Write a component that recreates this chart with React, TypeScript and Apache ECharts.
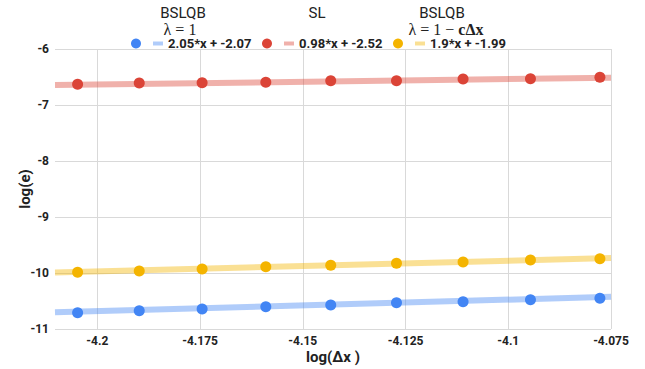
import React, { useEffect, useRef } from "react";
import * as echarts from "echarts";

const xValues = [-4.2048, -4.1898, -4.1745, -4.159, -4.1432, -4.1272, -4.111, -4.0946, -4.0777];
const blueY = [-10.709, -10.673, -10.643, -10.602, -10.571, -10.53, -10.513, -10.477, -10.452];
const redY = [-6.63, -6.607, -6.602, -6.595, -6.566, -6.566, -6.536, -6.53, -6.505];
const yellowY = [-9.988, -9.964, -9.929, -9.888, -9.863, -9.827, -9.804, -9.768, -9.745];

const trendX = [-4.2103, -4.075];
const blueTrend = [-10.7, -10.425];
const redTrend = [-6.645, -6.513];
const yellowTrend = [-9.99, -9.733];

const xTicks = [-4.2, -4.175, -4.15, -4.125, -4.1, -4.075];

const seriesNames = ["BSLQB λ=1", "SL", "BSLQB λ=1−cΔx"];
const trendNames = ["2.05*x + -2.07", "0.98*x + -2.52", "1.9*x + -1.99"];
const colors = ["#4285F4", "#DB4437", "#F4B400"];
const trendColors = ["rgba(66,133,244,0.42)", "rgba(219,68,55,0.42)", "rgba(244,180,0,0.42)"];

const FONT = "Roboto, 'Noto Sans', sans-serif";
const lineIcon = "path://M0,0H10V4H0Z";

export default function App() {
  const ref = useRef<HTMLDivElement>(null);
  useEffect(() => {
    if (!ref.current) return;
    const chart = echarts.init(ref.current, undefined, { renderer: "svg" });
    const ys = [blueY, redY, yellowY];
    const ts = [blueTrend, redTrend, yellowTrend];
    const legendLefts = [131, 262, 393];
    const series: any[] = [];
    for (let i = 0; i < 3; i++) {
      series.push({
        type: "line",
        name: trendNames[i],
        data: trendX.map((x, k) => [x, ts[i][k]]),
        symbol: "none",
        lineStyle: { width: 6, color: trendColors[i] },
        itemStyle: { color: trendColors[i] },
        z: 2,
        silent: true,
      });
    }
    for (let i = 0; i < 3; i++) {
      series.push({
        type: "scatter",
        name: seriesNames[i],
        data: xValues.map((x, k) => [x, ys[i][k]]),
        symbolSize: 11,
        itemStyle: { color: colors[i], opacity: 1 },
        z: 3,
      });
    }
    const legends = [0, 1, 2].map((i) => ({
      left: legendLefts[i],
      top: 37,
      padding: 0,
      itemWidth: 10,
      itemHeight: 10,
      itemGap: 12,
      orient: "horizontal",
      selectedMode: false,
      formatter: (name: string) => (trendNames.indexOf(name) >= 0 ? name : ""),
      textStyle: { fontFamily: FONT, fontWeight: "bold", fontSize: 13, color: "#222" },
      data: [
        { name: seriesNames[i], icon: "circle", itemStyle: { color: colors[i] } },
        { name: trendNames[i], icon: lineIcon, itemStyle: { color: trendColors[i] } },
      ],
    }));
    const headerStyle = { font: `15px ${FONT}`, fill: "#222", align: "center", verticalAlign: "middle" };
    const mathFont = "16px 'Liberation Serif', 'DejaVu Serif', serif";
    chart.setOption({
      animation: false,
      backgroundColor: "#fff",
      grid: { left: 55, right: 34, top: 49, bottom: 40, containLabel: false },
      legend: legends,
      graphic: [
        { type: "text", x: 183, y: 13, style: { ...headerStyle, text: "BSLQB" } },
        { type: "text", x: 180, y: 29, style: { font: mathFont, fill: "#222", align: "center", verticalAlign: "middle", text: "λ = 1" } },
        { type: "text", x: 317, y: 13, style: { ...headerStyle, text: "SL" } },
        { type: "text", x: 442, y: 13, style: { ...headerStyle, text: "BSLQB" } },
        {
          type: "text",
          x: 446,
          y: 29,
          style: {
            align: "center",
            verticalAlign: "middle",
            text: "{a|λ = 1 − }{b|cΔx}",
            rich: {
              a: { font: mathFont, fill: "#222" },
              b: { font: "bold " + mathFont, fill: "#222" },
            },
          },
        },
      ],
      xAxis: {
        type: "value",
        min: trendX[0],
        max: trendX[1],
        name: "log(Δx )",
        nameLocation: "middle",
        nameGap: 20,
        nameMoveOverlap: false,
        nameTextStyle: { fontFamily: FONT, fontWeight: "bold", fontSize: 15, color: "#222" },
        axisLine: { show: false },
        axisTick: { show: false, customValues: xTicks },
        axisLabel: {
          customValues: xTicks,
          margin: 6,
          fontFamily: FONT,
          fontWeight: "bold",
          fontSize: 12,
          color: "#222",
        },
        splitLine: { show: true, lineStyle: { color: "#d9d9d9", width: 1 } },
      },
      yAxis: {
        type: "value",
        min: -11,
        max: -6,
        interval: 1,
        name: "log(e)",
        nameLocation: "middle",
        nameGap: 23,
        nameMoveOverlap: false,
        nameTextStyle: { fontFamily: FONT, fontWeight: "bold", fontSize: 15, color: "#222" },
        axisLine: { show: false },
        axisTick: { show: false },
        axisLabel: { margin: 6, fontFamily: FONT, fontWeight: "bold", fontSize: 12, color: "#222" },
        splitLine: { show: true, lineStyle: { color: "#d9d9d9", width: 1 } },
      },
      series,
    });
    return () => chart.dispose();
  }, []);
  return (
    <div
      ref={ref}
      style={{ position: "absolute", left: 0, top: 0, width: 645, height: 369 }}
    />
  );
}
